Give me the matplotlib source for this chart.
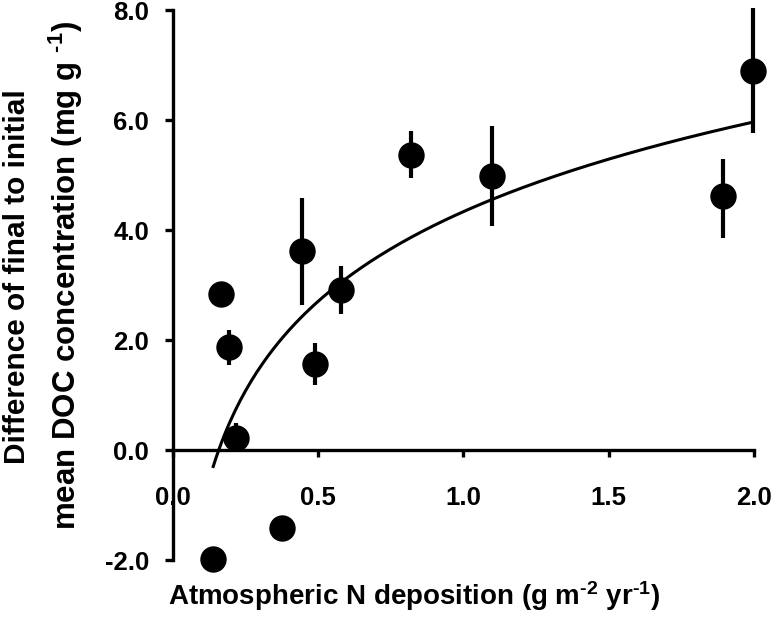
import numpy as np
import matplotlib
matplotlib.use("Agg")
import matplotlib.pyplot as plt

# === DATA ===
n_dep = [0.138, 0.166, 0.195, 0.220, 0.375, 0.447, 0.490, 0.579, 0.819, 1.099, 1.892, 1.995]
doc_diff = [-1.98, 2.84, 1.88, 0.22, -1.42, 3.62, 1.57, 2.91, 5.37, 4.99, 4.61, 6.89]
err_low = [0.0, 0.0, 0.33, 0.22, 0.0, 0.98, 0.39, 0.43, 0.42, 0.92, 0.75, 1.12]
err_high = [0.0, 0.0, 0.31, 0.27, 0.0, 0.96, 0.38, 0.44, 0.43, 0.90, 0.69, 1.14]

# logarithmic fit y = a*ln(x) + b, drawn over the range shown
fit_a = 2.356
fit_b = 4.333
fit_x_range = (0.14, 2.0)

x_ticks = [0.0, 0.5, 1.0, 1.5, 2.0]
y_ticks = [-2.0, 0.0, 2.0, 4.0, 6.0, 8.0]

# === STYLE ===
plt.rcParams["font.family"] = ["Liberation Sans", "DejaVu Sans"]
plt.rcParams["font.weight"] = "bold"
plt.rcParams["mathtext.fontset"] = "custom"
plt.rcParams["mathtext.rm"] = "Liberation Sans:bold"
plt.rcParams["mathtext.default"] = "rm"

fig = plt.figure(figsize=(7.75, 6.39), dpi=100)
ax = fig.add_axes([0.2226, 0.1236, 0.7503, 0.8607])

# fitted curve
xf = np.linspace(fit_x_range[0], fit_x_range[1], 200)
ax.plot(xf, fit_a * np.log(xf) + fit_b, color="black", linewidth=2.2, zorder=2)

# points with error bars (no caps)
ax.errorbar(n_dep, doc_diff, yerr=[err_low, err_high], fmt="o", color="black",
            markersize=18, elinewidth=3, capsize=0, zorder=3, clip_on=False)

ax.set_xlim(0, 2.0)
ax.set_ylim(-2.0, 8.0)

ax.spines["top"].set_visible(False)
ax.spines["right"].set_visible(False)
ax.spines["bottom"].set_position(("data", 0))
ax.spines["left"].set_linewidth(2.4)
ax.spines["bottom"].set_linewidth(2.4)

ax.set_xticks(x_ticks)
ax.set_xticklabels([f"{v:.1f}" for v in x_ticks])
ax.set_yticks(y_ticks)
ax.set_yticklabels([f"{v:.1f}" for v in y_ticks])
ax.tick_params(axis="x", direction="out", length=5, width=2.4, pad=21, labelsize=18.5)
ax.tick_params(axis="y", direction="out", length=6, width=2.4, pad=11, labelsize=18.5)
for lbl in ax.get_xticklabels() + ax.get_yticklabels():
    lbl.set_fontweight("bold")

# axis titles
fig.text(414 / 775, 1 - 605 / 639,
         r"Atmospheric N deposition (g m$^{\text{-2}}$ yr$^{\text{-1}}$)",
         ha="center", va="baseline", fontsize=20, fontweight="bold")
fig.text(25 / 775, 1 - 277 / 639, "Difference of final to initial",
         ha="center", va="baseline", rotation=90, rotation_mode="anchor",
         fontsize=21.4, fontweight="bold")
fig.text(76 / 775, 1 - 276 / 639,
         r"mean DOC concentration (mg g $^{\text{-1}}$)",
         ha="center", va="baseline", rotation=90, rotation_mode="anchor",
         fontsize=22.5, fontweight="bold")

fig.savefig("out.png", dpi=100)
